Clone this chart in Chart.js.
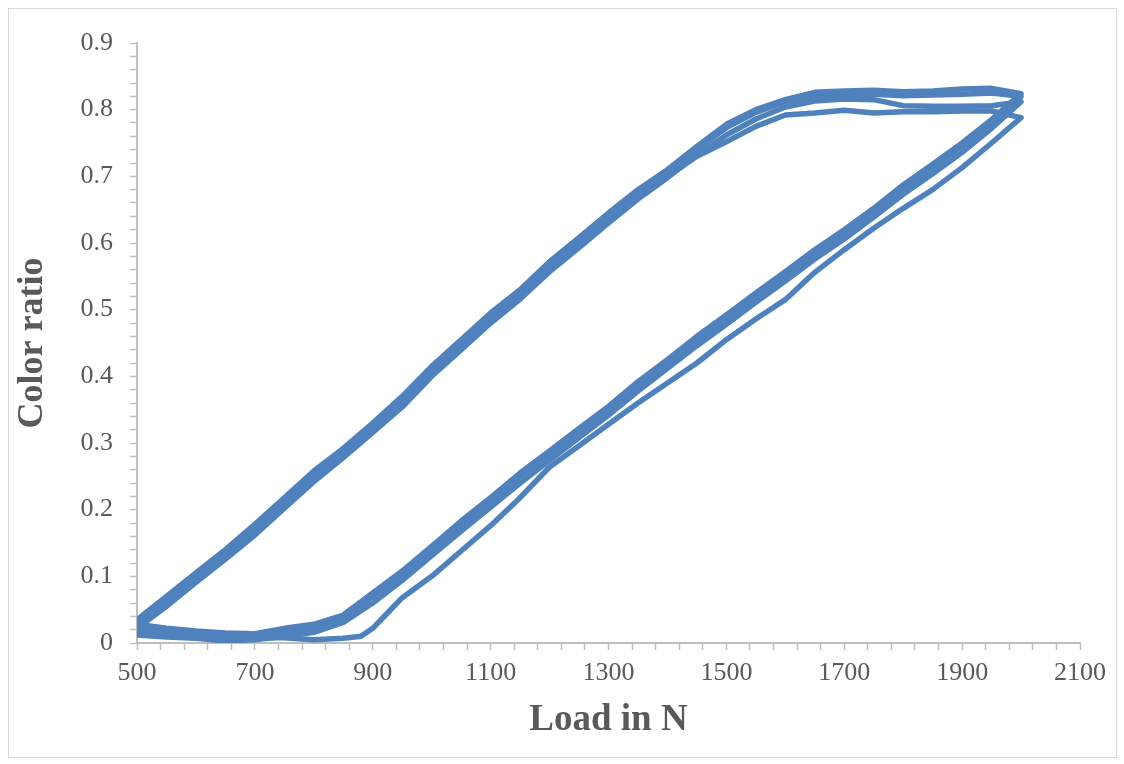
<!DOCTYPE html>
<html>
<head>
<meta charset="utf-8">
<script src="https://cdn.jsdelivr.net/npm/chart.js@4.4.0/dist/chart.umd.min.js"></script>
<style>
  html, body { margin: 0; padding: 0; background: #fff; }
  #wrap { position: relative; width: 1124px; height: 764px; }
  #frame { position: absolute; left: 8px; top: 8px; width: 1107px; height: 748px; border: 1px solid #d9d9d9; pointer-events: none; }
</style>
</head>
<body>
<div id="wrap">
  <canvas id="c" width="1124" height="764"></canvas>
  <div id="frame"></div>
</div>
<script>
// Load values (N)
const loadUp = [500,550,600,650,700,750,800,850,900,950,1000,1050,1100,1150,1200,1250,1300,1350,1400,1450,1500,1550,1600,1650,1700,1750,1800,1850,1900,1950,2000];
const loadDown = [2000,1950,1900,1850,1800,1750,1700,1650,1600,1550,1500,1450,1400,1350,1300,1250,1200,1150,1100,1050,1000,950,900,850,800,750,700,650,600,550,500];
const loadDownThin = [2000,1950,1900,1850,1800,1750,1700,1650,1600,1550,1500,1450,1400,1350,1300,1250,1200,1150,1100,1050,1000,950,925,900,880,850,800,750,700,650,600,550,500];

// Color ratio, cycle 1
const cycle1Up = [0.035,0.07,0.105,0.14,0.178,0.218,0.258,0.292,0.33,0.37,0.415,0.455,0.495,0.53,0.572,0.608,0.645,0.68,0.71,0.745,0.778,0.8,0.815,0.826,0.828,0.829,0.827,0.828,0.831,0.832,0.824];
const cycle1Down = [0.824,0.785,0.75,0.718,0.687,0.652,0.62,0.59,0.557,0.525,0.492,0.46,0.425,0.392,0.355,0.322,0.288,0.255,0.218,0.183,0.145,0.108,0.075,0.042,0.028,0.022,0.014,0.015,0.018,0.022,0.028];
// cycle 2
const cycle2Up = [0.03,0.064,0.1,0.135,0.172,0.212,0.252,0.287,0.326,0.364,0.41,0.45,0.49,0.526,0.567,0.603,0.64,0.676,0.707,0.741,0.773,0.796,0.812,0.82,0.822,0.823,0.821,0.822,0.823,0.825,0.82];
const cycle2Down = [0.82,0.781,0.746,0.713,0.682,0.648,0.615,0.585,0.552,0.52,0.487,0.455,0.42,0.387,0.35,0.317,0.283,0.25,0.213,0.178,0.14,0.103,0.07,0.038,0.023,0.017,0.01,0.009,0.013,0.016,0.02];
// cycle 3
const cycle3Up = [0.022,0.055,0.091,0.126,0.162,0.202,0.242,0.278,0.316,0.354,0.4,0.44,0.48,0.516,0.557,0.593,0.63,0.666,0.698,0.732,0.762,0.786,0.804,0.813,0.816,0.815,0.806,0.805,0.805,0.806,0.812];
const cycle3Down = [0.812,0.772,0.736,0.704,0.673,0.639,0.606,0.576,0.543,0.511,0.478,0.446,0.412,0.378,0.342,0.308,0.274,0.24,0.204,0.168,0.131,0.094,0.06,0.031,0.016,0.01,0.005,0.003,0.007,0.009,0.012];
// cycle 4 (lowest)
const cycle4Up = [0.028,0.062,0.098,0.133,0.17,0.208,0.249,0.284,0.323,0.361,0.406,0.447,0.487,0.523,0.563,0.6,0.637,0.672,0.7,0.73,0.752,0.775,0.792,0.795,0.799,0.795,0.797,0.797,0.798,0.798,0.788];
const cycle4Down = [0.788,0.75,0.713,0.68,0.652,0.622,0.59,0.556,0.515,0.486,0.455,0.42,0.39,0.36,0.328,0.296,0.264,0.218,0.176,0.138,0.1,0.068,0.045,0.022,0.01,0.007,0.005,0.008,0.008,0.006,0.009,0.011,0.015];

const xTitle = 'Load in N';
const yTitle = 'Color ratio';
const lineColor = '#4F81BD';
const textColor = '#595959';
const axisColor = '#BFBFBF';

function pts(xs, ys) { return xs.map((x, i) => ({ x: x, y: ys[i] })); }
function cycle(xu, yu, xd, yd) {
  return {
    data: pts(xu, yu).concat(pts(xd, yd)),
    showLine: true,
    borderColor: lineColor,
    backgroundColor: lineColor,
    borderWidth: 5.5,
    pointRadius: 0,
    pointHoverRadius: 0,
    tension: 0,
    borderJoinStyle: 'round',
    borderCapStyle: 'round',
    fill: false
  };
}

const datasets = [
  cycle(loadUp, cycle1Up, loadDown, cycle1Down),
  cycle(loadUp, cycle2Up, loadDown, cycle2Down),
  cycle(loadUp, cycle3Up, loadDown, cycle3Down),
  cycle(loadUp, cycle4Up, loadDownThin, cycle4Down)
];

const serif = "'Liberation Serif', 'DejaVu Serif', serif";

new Chart(document.getElementById('c'), {
  type: 'scatter',
  data: { datasets: datasets },
  options: {
    responsive: false,
    animation: false,
    events: [],
    layout: { padding: { left: 0, top: 43, right: 44, bottom: 0 } },
    plugins: { legend: { display: false }, tooltip: { enabled: false } },
    scales: {
      x: {
        type: 'linear',
        min: 500, max: 2100,
        afterFit: (s) => { s.height = 121; },
        ticks: {
          stepSize: 40,
          autoSkip: false,
          maxRotation: 0,
          padding: 8,
          color: textColor,
          font: { family: serif, size: 26 },
          callback: (v) => ((v - 500) % 200 === 0 ? String(v) : '')
        },
        grid: { drawOnChartArea: false, drawTicks: true, tickLength: 7, tickColor: axisColor, tickWidth: 1.5 },
        border: { color: axisColor, width: 2 },
        title: { display: true, text: xTitle, color: textColor, font: { family: serif, size: 37, weight: 'bold' }, padding: { top: 0, bottom: 21 } }
      },
      y: {
        type: 'linear',
        min: 0, max: 0.9,
        afterFit: (s) => { s.width = 137; },
        ticks: {
          stepSize: 0.02,
          autoSkip: false,
          padding: 17,
          color: textColor,
          font: { family: serif, size: 26 },
          callback: (v) => {
            const t = v * 10;
            return Math.abs(t - Math.round(t)) < 1e-6 ? String(Math.round(t) / 10) : '';
          }
        },
        grid: { drawOnChartArea: false, drawTicks: true, tickLength: 7, tickColor: axisColor, tickWidth: 1.5 },
        border: { color: axisColor, width: 2 },
        title: { display: true, text: yTitle, color: textColor, font: { family: serif, size: 36, weight: 'bold' }, padding: { top: 11, bottom: 0 } }
      }
    }
  }
});
</script>
</body>
</html>
